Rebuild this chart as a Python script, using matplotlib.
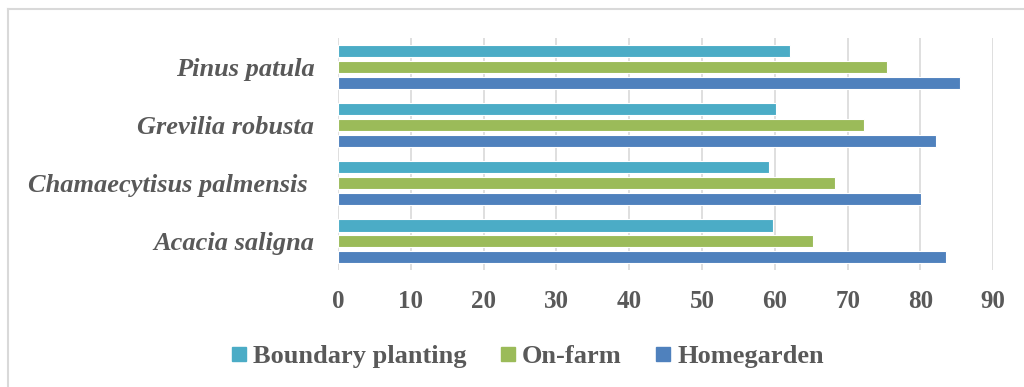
import matplotlib
matplotlib.use("Agg")
import matplotlib.pyplot as plt
import numpy as np
from matplotlib.lines import Line2D

species = ["Acacia saligna", "Chamaecytisus palmensis ", "Grevilia robusta", "Pinus patula"]
boundary = [59.8, 59.2, 60.1, 62.1]
on_farm = [65.3, 68.2, 72.3, 75.4]
homegarden = [83.5, 80.1, 82.1, 85.4]
x_ticks = [0, 10, 20, 30, 40, 50, 60, 70, 80, 90]

COLORS = {"Boundary planting": "#4BACC6", "On-farm": "#9BBB59", "Homegarden": "#4F81BD"}
TEXT = "#595959"
SERIF = "Liberation Serif"

fig = plt.figure(figsize=(10.24, 3.87), dpi=100)
ax = fig.add_axes([0.330, 0.302, 0.640, 0.600])

y = np.arange(len(species))
h = 0.21
step = 0.27
series = [("Boundary planting", boundary, step), ("On-farm", on_farm, 0), ("Homegarden", homegarden, -step)]
for name, vals, off in series:
    ax.barh(y + off, vals, height=h, color=COLORS[name], edgecolor="white", linewidth=0.8,
            label=name, zorder=3)

ax.set_xlim(0, 90)
ax.set_ylim(-0.5, 3.5)
ax.set_xticks(x_ticks)
ax.set_xticklabels([str(t) for t in x_ticks], fontfamily=SERIF, fontweight="bold",
                   fontsize=18, color=TEXT)
ax.set_yticks(y)
ax.set_yticklabels(species, fontfamily=SERIF, fontweight="bold", fontstyle="italic",
                   fontsize=19, color=TEXT)
ax.tick_params(axis="both", length=0)
ax.tick_params(axis="x", pad=14)
ax.tick_params(axis="y", pad=17)
ax.grid(axis="x", color="#D9D9D9", linewidth=1.2, zorder=0)
for s in ax.spines.values():
    s.set_visible(False)

handles = [Line2D([0], [0], marker="s", linestyle="none", markersize=10,
                  markerfacecolor=COLORS[n], markeredgecolor=COLORS[n]) for n, _, _ in series]
leg = fig.legend(handles, [n for n, _, _ in series], loc="center", bbox_to_anchor=(0.515, 0.080),
                 ncol=3, frameon=False, handlelength=0.6, handletextpad=0.25, columnspacing=1.25,
                 prop={"family": SERIF, "weight": "bold", "size": 19})
for t in leg.get_texts():
    t.set_color(TEXT)

# light frame on top and left edges
fig.add_artist(Line2D([8 / 1024, 1.0], [1 - 9 / 387, 1 - 9 / 387], transform=fig.transFigure,
                      color="#D9D9D9", linewidth=1.5))
fig.add_artist(Line2D([8 / 1024, 8 / 1024], [0, 1 - 9 / 387], transform=fig.transFigure,
                      color="#D9D9D9", linewidth=1.5))

fig.savefig("out.png", dpi=100)
